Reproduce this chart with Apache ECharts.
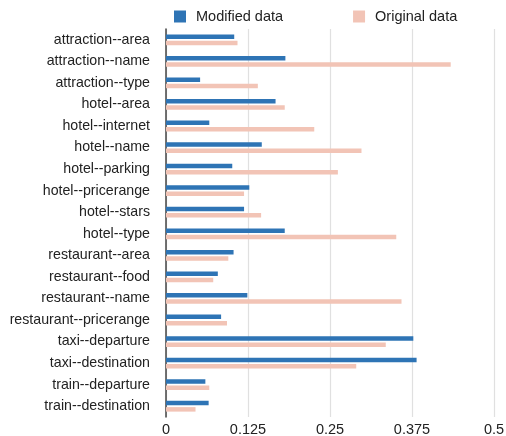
<!DOCTYPE html>
<html><head><meta charset="utf-8">
<script src="https://cdn.jsdelivr.net/npm/echarts@6/dist/echarts.min.js"></script>
<style>html,body{margin:0;padding:0;background:#fff}#c{width:506px;height:436px}</style>
</head><body><div id="c"></div>
<script>
const categories = ["attraction--area","attraction--name","attraction--type","hotel--area","hotel--internet","hotel--name","hotel--parking","hotel--pricerange","hotel--stars","hotel--type","restaurant--area","restaurant--food","restaurant--name","restaurant--pricerange","taxi--departure","taxi--destination","train--departure","train--destination"];
const modifiedData = [0.104,0.182,0.052,0.167,0.066,0.146,0.101,0.127,0.119,0.181,0.103,0.079,0.124,0.084,0.377,0.382,0.060,0.065];
const originalData = [0.109,0.434,0.140,0.181,0.226,0.298,0.262,0.119,0.145,0.351,0.095,0.072,0.359,0.093,0.335,0.290,0.066,0.045];
const xTicks = {min:0, max:0.5, interval:0.125};

const chart = echarts.init(document.getElementById('c'));
chart.setOption({
  animation:false,
  textStyle:{fontFamily:'Liberation Sans, Arial, sans-serif'},
  legend:{top:4,left:169,itemWidth:12,itemHeight:12,itemGap:70,icon:'rect',
    textStyle:{fontSize:14.5,color:'#222',padding:[0,0,0,5]},
    data:['Modified data','Original data']},
  grid:{left:166,right:12,top:29,bottom:19,containLabel:false,outerBoundsMode:'none'},
  xAxis:{type:'value',min:xTicks.min,max:xTicks.max,interval:xTicks.interval,
    axisLine:{show:false},axisTick:{show:false},
    axisLabel:{fontSize:14.5,color:'#222',margin:5},
    splitLine:{show:true,lineStyle:{color:'#e0e0e0',width:1.2}}},
  yAxis:{type:'category',data:categories,inverse:true,
    axisLine:{show:true,lineStyle:{color:'#444',width:1.5}},axisTick:{show:false},
    axisLabel:{fontSize:14.2,color:'#222',margin:16}},
  series:[
    {name:'Modified data',type:'bar',data:modifiedData,barWidth:4.5,barGap:'40%',
      itemStyle:{color:'#2e74b5'}},
    {name:'Original data',type:'bar',data:originalData,barWidth:4.5,barGap:'40%',
      itemStyle:{color:'#f2c4b6'}}
  ]
});
</script></body></html>
